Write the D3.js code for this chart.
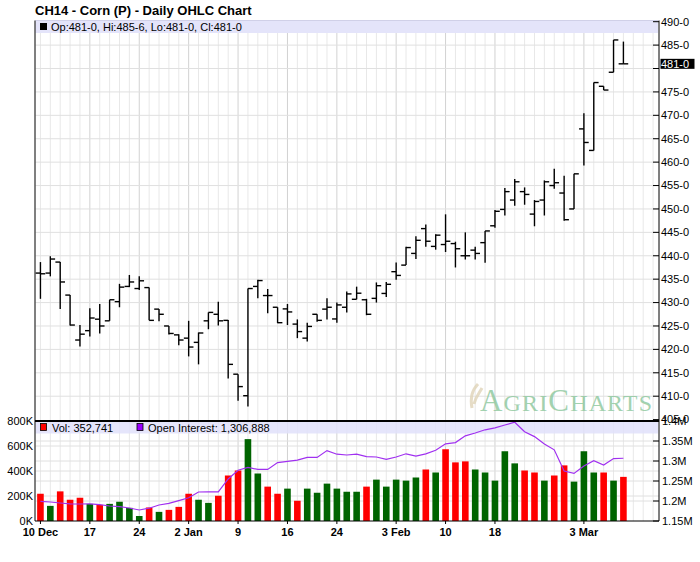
<!DOCTYPE html>
<html><head><meta charset="utf-8">
<script src="https://cdn.jsdelivr.net/npm/d3@7"></script>
<style>body{margin:0;background:#fff}svg{display:block;font-family:"Liberation Sans",Arial,sans-serif}</style>
</head><body><svg id="c" width="700" height="562"></svg>
<script>
const dates = ["Dec 10","Dec 11","Dec 12","Dec 13","Dec 16","Dec 17","Dec 18","Dec 19","Dec 20","Dec 23","Dec 24","Dec 26","Dec 27","Dec 30","Dec 31",
"Jan 2","Jan 3","Jan 6","Jan 7","Jan 8","Jan 9","Jan 10","Jan 13","Jan 14","Jan 15","Jan 16","Jan 17","Jan 21","Jan 22","Jan 23","Jan 24","Jan 27","Jan 28","Jan 29","Jan 30","Jan 31",
"Feb 3","Feb 4","Feb 5","Feb 6","Feb 7","Feb 10","Feb 11","Feb 12","Feb 13","Feb 14","Feb 18","Feb 19","Feb 20","Feb 21","Feb 24","Feb 25","Feb 26","Feb 27","Feb 28",
"Mar 3","Mar 4","Mar 5","Mar 6","Mar 7"];
const opens  = [436.3,436.3,438.65,431.6,422.0,424.0,426.45,426.1,430.2,433.45,433.0,433.2,428.6,425.0,423.1,
422.4,421.5,426.1,427.5,426.2,414.7,410.1,433.45,431.5,429.0,428.65,425.4,422.4,427.5,428.6,426.5,429.0,430.7,430.6,430.9,431.95,
436.6,438.0,440.5,445.8,442.0,442.4,442.6,440.0,441.2,442.8,446.4,449.9,451.9,453.7,448.9,451.9,455.0,453.4,450.0,
467.1,462.5,476.2,479.2,481.0];
const highs  = [438.65,439.9,438.65,431.6,425.2,428.8,429.7,430.6,434.0,435.9,435.6,433.2,428.6,425.0,423.25,
426.1,423.6,427.9,430.2,426.3,414.7,433.0,434.9,432.9,429.0,429.7,426.4,425.7,427.5,430.9,430.0,432.35,433.4,430.8,434.3,434.4,
438.55,441.9,444.15,446.7,444.6,448.85,443.0,445.0,441.9,445.3,449.8,454.5,456.4,454.6,451.9,456.1,458.6,457.1,457.5,
470.45,477.0,476.2,486.1,485.75];
const lows   = [430.8,435.6,428.6,425.1,420.6,422.75,423.4,426.1,429.0,433.3,432.7,426.2,426.0,423.2,420.9,
418.5,416.8,424.3,425.1,413.8,409.05,407.8,430.9,427.7,425.6,425.2,422.4,421.7,425.9,426.4,425.7,427.9,430.7,427.3,430.0,431.2,
434.9,438.0,439.3,441.9,441.3,440.8,437.5,439.2,439.2,438.5,446.0,448.6,450.7,450.9,446.3,448.6,454.3,447.5,450.0,
459.3,462.5,475.4,479.2,481.0];
const closes = [436.15,439.3,434.4,425.2,423.25,426.7,425.0,430.6,433.3,434.4,434.65,426.2,427.5,423.4,422.0,
420.5,423.5,427.9,426.1,416.8,412.05,433.0,434.7,431.5,425.7,428.0,423.8,424.9,426.2,429.0,429.5,431.85,432.0,427.5,433.6,433.9,
435.8,441.75,443.3,443.1,444.4,443.1,441.5,440.0,440.5,445.3,449.5,453.7,455.8,453.1,451.6,455.8,455.6,447.7,457.5,
464.2,477.0,475.4,486.1,481.0];
const prevClose = 437.5;
const volumeK = [218,121,237,170,186,137,129,137,154,105,40,108,73,89,113,218,170,145,202,364,404,655,380,275,218,259,162,259,226,299,259,234,
234,275,331,275,331,323,348,412,388,574,469,477,412,388,323,558,461,404,388,323,364,445,315,558,388,388,323,353];
const openInterestM = [1.199,1.1975,1.195,1.193,1.1925,1.193,1.191,1.1875,1.186,1.1825,1.1775,1.182,1.19,1.194,1.201,1.208,1.2225,1.223,1.223,1.255,1.277,1.284,1.279,1.279,1.296,1.299,1.302,1.309,1.309,1.326,1.317,1.315,
1.317,1.311,1.31,1.304,1.31,1.318,1.312,1.318,1.327,1.343,1.346,1.363,1.37,1.378,1.383,1.39,1.397,1.373,1.361,1.3425,1.328,1.275,1.269,1.2875,1.301,1.29,1.306,1.306888];
const xLabels = {"Dec 10":"10 Dec","Dec 17":"17","Dec 24":"24","Jan 2":"2 Jan","Jan 9":"9","Jan 16":"16","Jan 24":"24","Feb 3":"3 Feb","Feb 10":"10","Feb 18":"18","Mar 3":"3 Mar"};
const priceTicks = d3.range(405, 491, 5);
const volTicksK = [0,200,400,600,800];
const oiTicks = [1.15,1.2,1.25,1.3,1.35,1.4];
const oiTickLabels = ["1.15M","1.2M","1.25M","1.3M","1.35M","1.4M"];
const lastPrice = 481;
const title = "CH14 - Corn (P) - Daily OHLC Chart";
const ohlcLegend = "Op:481-0, Hi:485-6, Lo:481-0, Cl:481-0";
const volLegend = "Vol: 352,741";
const oiLegend = "Open Interest: 1,306,888";

const svg = d3.select("#c");
const L = 35.5, R = 658, AX = 659;
const pTop = 20.5, pBot = 421, vTop = 421, vBot = 521;
const nSlots = 63;
const x = d3.scaleBand().domain(d3.range(nSlots)).range([L, R]);
const cx = i => x(i) + x.bandwidth()/2;
const yP = d3.scaleLinear().domain([405, 490]).range([419.6, 21.7]);
const yV = d3.scaleLinear().domain([0, 800]).range([vBot, vTop]);
const yO = d3.scaleLinear().domain([1.15, 1.4]).range([vBot, vTop]);
const fmtP = v => v + "-0";
const labelled = new Set(dates.map((d,i)=> xLabels[d] ? i : -1).filter(i=>i>=0));

// vertical gridlines
svg.append("g").selectAll("line").data(d3.range(nSlots)).join("line")
  .attr("x1", cx).attr("x2", cx).attr("y1", pTop).attr("y2", vBot)
  .attr("stroke", i => labelled.has(i) && i>0 ? "#d2d2d2" : "#e8e8e8").attr("stroke-width", 1);
// horizontal price gridlines
svg.append("g").selectAll("line").data(priceTicks.filter(t=>t>405 && t<490)).join("line")
  .attr("x1", L).attr("x2", AX).attr("y1", d=>yP(d)).attr("y2", d=>yP(d))
  .attr("stroke", "#e0e0e0");
// volume panel gridlines
svg.append("g").selectAll("line").data(volTicksK.filter(t=>t>0 && t<800)).join("line")
  .attr("x1", L).attr("x2", AX).attr("y1", d=>yV(d)).attr("y2", d=>yV(d)).attr("stroke", "#e0e0e0");
svg.append("g").selectAll("line").data(oiTicks.filter(t=>t>1.15 && t<1.4)).join("line")
  .attr("x1", L).attr("x2", AX).attr("y1", d=>yO(d)).attr("y2", d=>yO(d)).attr("stroke", "#e0e0e0");

// watermark
const wm = svg.append("g").attr("opacity", 0.8);
wm.append("path").attr("d","M472,408 C470,398 472,390 478,384 M474,404 C476,396 480,392 482,388")
  .attr("fill","none").attr("stroke","#e0d4b8").attr("stroke-width",3);
const wt = wm.append("text").attr("x", 480).attr("y", 410.5)
  .attr("font-family", "'Liberation Serif','DejaVu Serif',serif").attr("fill", "#8cc79c")
  .attr("textLength", 172).attr("lengthAdjust", "spacing");
[["A",31],["GRI",24],["C",31],["HARTS",24]].forEach(([t,s]) => wt.append("tspan").attr("font-size", s).text(t));

// header band
svg.append("rect").attr("x", L).attr("y", pTop).attr("width", R-L).attr("height", 12.5).attr("fill", "#e4e4fa");
svg.append("line").attr("x1", L).attr("x2", R).attr("y1", pTop).attr("y2", pTop).attr("stroke", "#d0d0e8");
svg.append("rect").attr("x", 40).attr("y", 23).attr("width", 7).attr("height", 7).attr("fill", "#000");
svg.append("text").attr("x", 51).attr("y", 30.5).attr("font-size", 11).text(ohlcLegend);

// title
svg.append("text").attr("x", 35).attr("y", 15).attr("font-size", 13).attr("font-weight", "bold").text(title);

// OHLC bars
const g = svg.append("g").attr("stroke", "#000").attr("stroke-width", 1.4);
const tick = 4.8;
dates.forEach((d, i) => {
  const c = cx(i);
  g.append("line").attr("x1", c).attr("x2", c).attr("y1", yP(highs[i])).attr("y2", yP(lows[i]));
  g.append("line").attr("x1", c - tick).attr("x2", c).attr("y1", yP(opens[i])).attr("y2", yP(opens[i]));
  g.append("line").attr("x1", c).attr("x2", c + tick).attr("y1", yP(closes[i])).attr("y2", yP(closes[i]));
});

// volume bars
const bw = 6.6;
svg.append("g").selectAll("rect").data(volumeK).join("rect")
  .attr("x", (d,i)=> cx(i) - bw/2).attr("width", bw)
  .attr("y", d=>yV(d)).attr("height", d=> yV(0)-yV(d))
  .attr("fill", (d,i)=> closes[i] >= (i ? closes[i-1] : prevClose) ? "#006400" : "#ff0000");

// volume legend band
svg.append("rect").attr("x", L).attr("y", vTop).attr("width", R-L).attr("height", 12.5).attr("fill", "#e0e0fa").attr("opacity", 0.85);
// open interest line
svg.append("path").datum(openInterestM)
  .attr("d", d3.line().x((d,i)=>cx(i)).y(d=>yO(d)))
  .attr("fill", "none").attr("stroke", "#a030f0").attr("stroke-width", 1.2);
svg.append("rect").attr("x", 40.5).attr("y", 423.5).attr("width", 6).attr("height", 7).attr("fill", "#ff0000").attr("stroke", "#000").attr("stroke-width", 0.8);
svg.append("text").attr("x", 52).attr("y", 431.5).attr("font-size", 11).text(volLegend);
svg.append("rect").attr("x", 137).attr("y", 423.5).attr("width", 6).attr("height", 7).attr("fill", "#9900ff").attr("stroke", "#000").attr("stroke-width", 0.8);
svg.append("text").attr("x", 148).attr("y", 431.5).attr("font-size", 11).text(oiLegend);

// frame lines
svg.append("line").attr("x1", L-0.5).attr("x2", L-0.5).attr("y1", pTop).attr("y2", vBot).attr("stroke", "#000");
svg.append("line").attr("x1", AX).attr("x2", AX).attr("y1", pTop).attr("y2", vBot).attr("stroke", "#000");
svg.append("line").attr("x1", L-0.5).attr("x2", AX).attr("y1", vTop).attr("y2", vTop).attr("stroke", "#000").attr("stroke-width", 2);
svg.append("line").attr("x1", L-0.5).attr("x2", AX).attr("y1", vBot).attr("y2", vBot).attr("stroke", "#000").attr("stroke-width", 1.2);

// price axis (right); the label nearest the last price is replaced by the highlighted last-price label
const pa = svg.append("g").attr("font-size", 11);
priceTicks.forEach(t => {
  pa.append("line").attr("x1", AX-6).attr("x2", AX).attr("y1", yP(t)).attr("y2", yP(t)).attr("stroke", "#000");
  if (Math.abs(t - lastPrice) >= 3) pa.append("text").attr("x", 661).attr("y", yP(t)).attr("dy", "0.35em").text(fmtP(t));
});
pa.append("rect").attr("x", 660.5).attr("y", yP(lastPrice) - 5).attr("width", 34).attr("height", 10).attr("fill", "#000");
pa.append("text").attr("x", 661).attr("y", yP(lastPrice)).attr("dy", "0.35em").attr("fill", "#fff").text(fmtP(lastPrice));

// volume axis (left)
svg.append("g").attr("font-size", 11).attr("text-anchor", "end").selectAll("text").data(volTicksK).join("text")
  .attr("x", 33).attr("y", d=>yV(d)).attr("dy", "0.35em").text(d => d + "K");
// OI axis (right)
const oa = svg.append("g").attr("font-size", 11);
oiTicks.forEach((t, k) => {
  oa.append("line").attr("x1", AX-6).attr("x2", AX).attr("y1", yO(t)).attr("y2", yO(t)).attr("stroke", "#000");
  oa.append("text").attr("x", 662).attr("y", yO(t)).attr("dy", "0.35em").text(oiTickLabels[k]);
});

// x axis labels
const xa = svg.append("g").attr("font-size", 11).attr("font-weight", "bold").attr("text-anchor", "middle");
dates.forEach((d, i) => {
  if (!xLabels[d]) return;
  xa.append("line").attr("x1", cx(i)).attr("x2", cx(i)).attr("y1", vBot).attr("y2", vBot+3).attr("stroke", "#000");
  xa.append("text").attr("x", cx(i)).attr("y", 535.5).text(xLabels[d]);
});
</script></body></html>
